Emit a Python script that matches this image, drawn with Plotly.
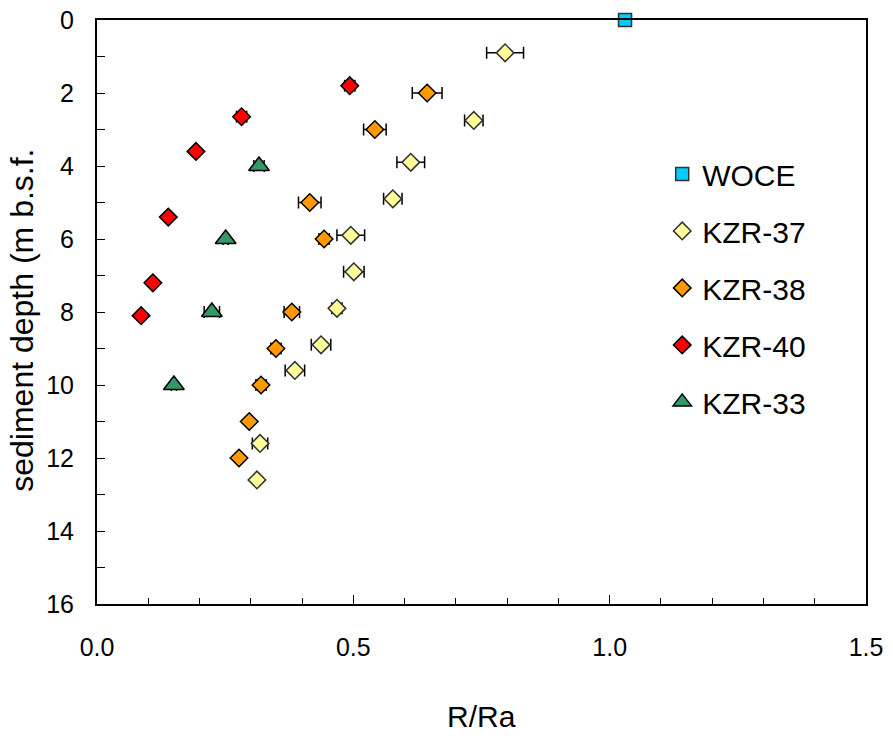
import plotly.graph_objects as go

# ---- data ----
woce_x = [1.03]
woce_y = [0.0]

kzr37_x = [0.796, 0.735, 0.612, 0.577, 0.495, 0.501, 0.468, 0.437, 0.386, 0.318, 0.312]
kzr37_y = [0.9, 2.75, 3.9, 4.9, 5.9, 6.9, 7.9, 8.9, 9.6, 11.6, 12.6]
kzr37_err = [0.036, 0.018, 0.027, 0.018, 0.027, 0.02, 0.01, 0.019, 0.019, 0.015, 0.006]

kzr38_x = [0.644, 0.542, 0.415, 0.443, 0.380, 0.349, 0.320, 0.297, 0.277]
kzr38_y = [2.0, 3.0, 5.0, 6.0, 8.0, 9.0, 10.0, 11.0, 12.0]
kzr38_err = [0.029, 0.022, 0.022, 0.01, 0.015, 0.01, 0.01, 0.005, 0.005]

kzr40_x = [0.493, 0.282, 0.193, 0.139, 0.109, 0.086]
kzr40_y = [1.8, 2.65, 3.6, 5.4, 7.2, 8.1]
kzr40_err = [0.01, 0.01, 0.005, 0.005, 0.005, 0.005]

kzr33_x = [0.316, 0.251, 0.224, 0.150]
kzr33_y = [4.0, 6.0, 8.0, 10.0]
kzr33_err = [0.01, 0.005, 0.015, 0.005]

x_tickvals = [0.0, 0.5, 1.0, 1.5]
x_ticktext = ["0.0", "0.5", "1.0", "1.5"]
y_tickvals = [0, 2, 4, 6, 8, 10, 12, 14, 16]

FONT = "Arial, Liberation Sans, sans-serif"

fig = go.Figure()

def err(arr):
    return dict(type="data", array=arr, symmetric=True, color="black",
                thickness=1.5, width=6)

fig.add_trace(go.Scatter(
    x=woce_x, y=woce_y, mode="markers", name="WOCE", legendgroup="a",
    cliponaxis=False,
    marker=dict(symbol="square", size=13, color="#00CCFF",
                line=dict(color="#333333", width=1.5))))
fig.add_trace(go.Scatter(
    x=kzr37_x, y=kzr37_y, mode="markers", name="KZR-37", legendgroup="b",
    cliponaxis=False, error_x=err(kzr37_err),
    marker=dict(symbol="diamond", size=13.5, color="#FFFF99",
                line=dict(color="#333333", width=1.5))))
fig.add_trace(go.Scatter(
    x=kzr38_x, y=kzr38_y, mode="markers", name="KZR-38", legendgroup="c",
    cliponaxis=False, error_x=err(kzr38_err),
    marker=dict(symbol="diamond", size=13.5, color="#FF9900",
                line=dict(color="black", width=1.5))))
fig.add_trace(go.Scatter(
    x=kzr40_x, y=kzr40_y, mode="markers", name="KZR-40", legendgroup="d",
    cliponaxis=False, error_x=err(kzr40_err),
    marker=dict(symbol="diamond", size=13.5, color="#FF0000",
                line=dict(color="black", width=1.5))))
fig.add_trace(go.Scatter(
    x=kzr33_x, y=kzr33_y, mode="markers", name="KZR-33", legendgroup="e",
    cliponaxis=False, error_x=err(kzr33_err),
    marker=dict(symbol="triangle-up", size=18, color="#339966",
                line=dict(color="black", width=1.5))))

fig.update_layout(
    width=893, height=736,
    margin=dict(l=97, r=27, t=20, b=132, autoexpand=False),
    paper_bgcolor="white", plot_bgcolor="white",
    font=dict(family=FONT, color="black", size=24),
    showlegend=True,
    legend=dict(x=0.735, y=0.781, xanchor="left", yanchor="top",
                font=dict(size=30, family=FONT, color="black"),
                bgcolor="rgba(0,0,0,0)", traceorder="grouped",
                tracegroupgap=15),
    xaxis=dict(range=[0, 1.5], tickvals=x_tickvals, ticktext=x_ticktext,
               ticks="inside", ticklen=9, tickwidth=1.2, tickcolor="black",
               showline=True, linecolor="black", linewidth=2, mirror=True,
               showgrid=False, zeroline=False,
               tickfont=dict(size=25, family=FONT),
               ticklabelstandoff=20,
               minor=dict(dtick=0.1, ticks="inside", ticklen=6,
                          tickwidth=1, tickcolor="black", showgrid=False)),
    yaxis=dict(range=[16, 0], tickvals=y_tickvals,
               ticks="inside", ticklen=8, tickwidth=1.2, tickcolor="black",
               showline=True, linecolor="black", linewidth=2, mirror=True,
               showgrid=False, zeroline=False,
               tickfont=dict(size=25, family=FONT),
               ticklabelstandoff=16,
               minor=dict(dtick=1, ticks="inside", ticklen=8,
                          tickwidth=1, tickcolor="black", showgrid=False)),
    annotations=[
        dict(text="R/Ra", xref="paper", yref="paper", x=0.5, y=0,
             xanchor="center", yanchor="middle", yshift=-112,
             showarrow=False, font=dict(size=30, family=FONT)),
        dict(text="sediment depth (m b.s.f.", xref="paper", yref="paper",
             x=0, y=0.485, xanchor="center", yanchor="middle", xshift=-75,
             textangle=-90, showarrow=False, font=dict(size=32, family=FONT)),
    ],
)

fig.write_html("out.html")
